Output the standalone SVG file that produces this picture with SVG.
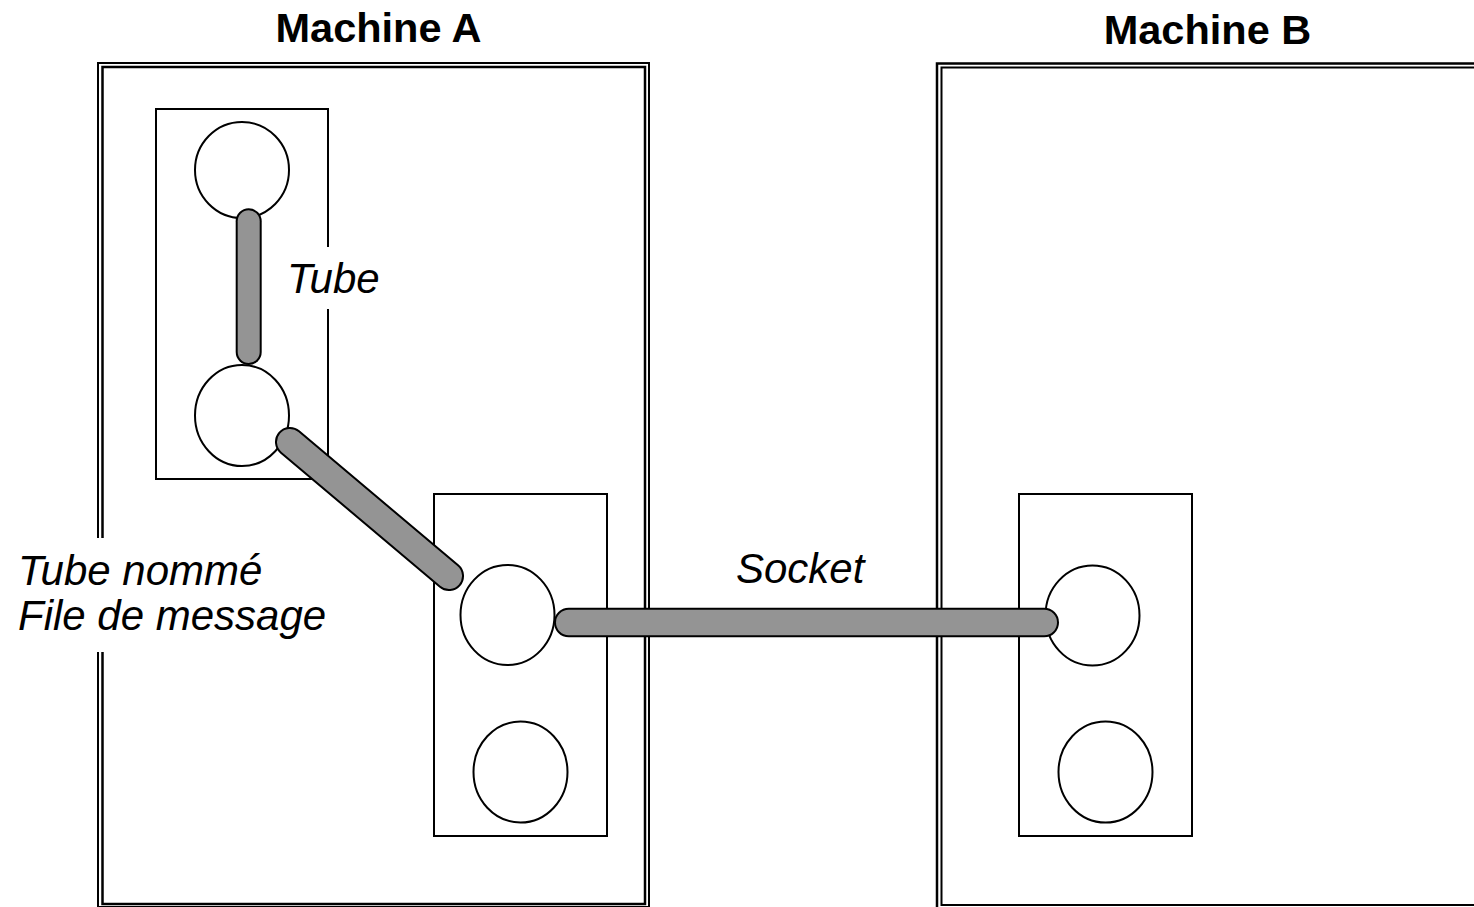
<svg xmlns="http://www.w3.org/2000/svg" width="1474" height="907" viewBox="0 0 1474 907">
  <style>
    .frame { fill: none; stroke: #000; stroke-width: 2; }
    .frame-in { fill: none; stroke: #000; stroke-width: 2.5; }
    .box { fill: #fff; stroke: #000; stroke-width: 2; }
    .end { fill: #fff; stroke: #000; stroke-width: 2; }
    .title { font-family: "Liberation Sans", Arial, sans-serif; font-weight: bold; font-size: 41.5px; fill: #000; text-anchor: middle; }
    .label { font-family: "Liberation Sans", Arial, sans-serif; font-style: italic; font-size: 42px; fill: #000; }
    .pipe-edge { fill: none; stroke: #000; stroke-linecap: round; }
    .pipe-core { fill: none; stroke: #949494; stroke-linecap: round; }
    .mask { fill: #fff; stroke: none; }
  </style>
  <rect width="1474" height="907" fill="#fff"/>

  <!-- Machine A: double-lined frame -->
  <g id="machine-a">
    <rect class="frame" x="98" y="63" width="551" height="844"/>
    <rect class="frame-in" x="102.5" y="67" width="542.5" height="837"/>
    <text class="title" x="378.5" y="41.5">Machine A</text>
  </g>

  <!-- Machine B: double-lined frame running off the right edge -->
  <g id="machine-b">
    <rect class="frame-in" x="937" y="63.5" width="560" height="846"/>
    <rect class="frame" x="941.5" y="67.5" width="560" height="837.5"/>
    <text class="title" x="1207.5" y="44">Machine B</text>
  </g>

  <!-- Process on machine A holding the unnamed pipe -->
  <g id="process-a1">
    <rect class="box" x="156" y="109" width="172" height="370"/>
    <ellipse class="end" cx="242" cy="170" rx="47" ry="48"/>
    <ellipse class="end" cx="242" cy="415.5" rx="47" ry="50.5"/>
  </g>

  <!-- Process on machine A with the socket end -->
  <g id="process-a2">
    <rect class="box" x="434" y="494" width="173" height="342"/>
    <ellipse class="end" cx="507.5" cy="615" rx="47" ry="50"/>
    <ellipse class="end" cx="520.5" cy="772" rx="47" ry="50.5"/>
  </g>

  <!-- Process on machine B -->
  <g id="process-b1">
    <rect class="box" x="1019" y="494" width="173" height="342"/>
    <ellipse class="end" cx="1092.5" cy="615.5" rx="47" ry="50"/>
    <ellipse class="end" cx="1105.5" cy="772" rx="47" ry="50.5"/>
  </g>

  <!-- Label backgrounds break the lines behind the text -->
  <g id="label-tube">
    <rect class="mask" x="284" y="247" width="98" height="62"/>
    <text class="label" x="287" y="293">Tube</text>
  </g>

  <g id="label-named">
    <rect class="mask" x="14" y="538" width="320" height="114"/>
    <text class="label" x="18" y="585">Tube nommé</text>
    <text class="label" x="18" y="630">File de message</text>
  </g>

  <g id="label-socket">
    <text class="label" x="736" y="583">Socket</text>
  </g>

  <!-- Communication channels -->
  <g id="connectors">
    <path class="pipe-edge" stroke-width="26" d="M248.7,221.3 L248.7,352"/>
    <path class="pipe-core" stroke-width="22" d="M248.7,221.3 L248.7,352"/>

    <path class="pipe-edge" stroke-width="30" d="M290,442 L449,576"/>
    <path class="pipe-core" stroke-width="26" d="M290,442 L449,576"/>

    <path class="pipe-edge" stroke-width="29.5" d="M568.75,622.5 L1044.25,622.5"/>
    <path class="pipe-core" stroke-width="25.5" d="M568.75,622.5 L1044.25,622.5"/>
  </g>
</svg>
